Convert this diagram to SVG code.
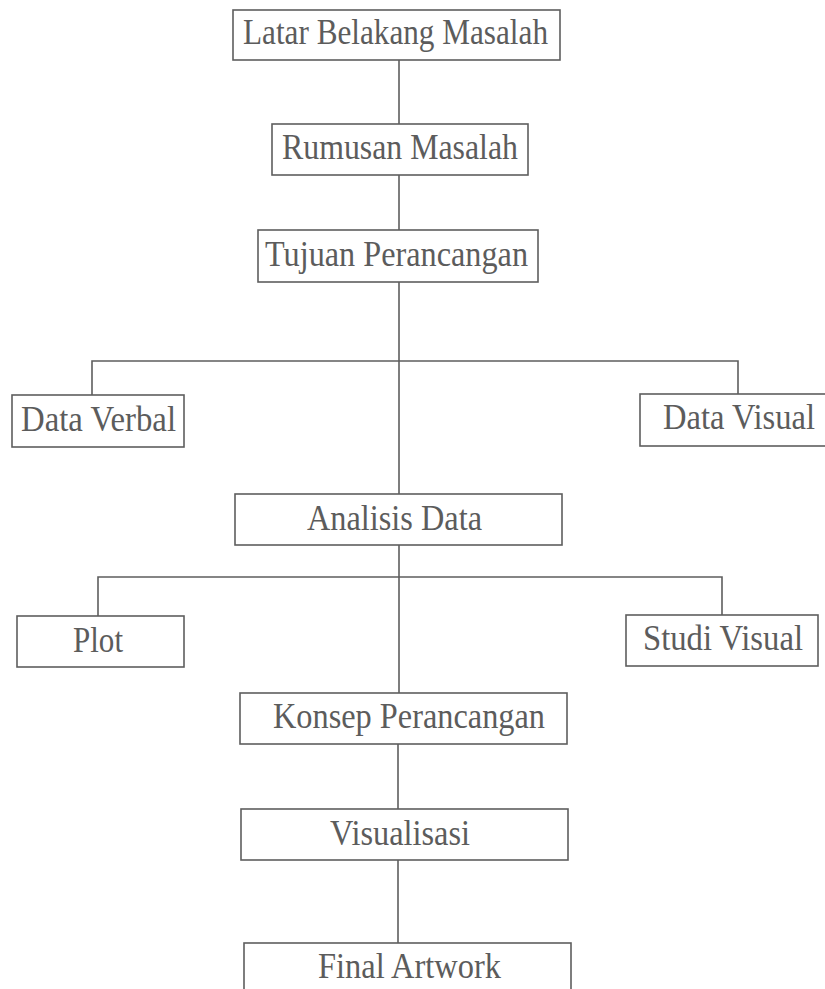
<svg xmlns="http://www.w3.org/2000/svg" width="825" height="989" viewBox="0 0 825 989">
<style>
.box{fill:#fff;stroke:#5e5e5e;stroke-width:1.6}
.lbl{font-family:"Liberation Serif","Times New Roman",serif;font-size:35px;fill:#5c5c5c}
.conn{stroke:#5e5e5e;stroke-width:1.6;fill:none}
</style>
<rect width="825" height="989" fill="#fff"/>
<g id="connectors">
<line class="conn" x1="399" y1="60" x2="399" y2="124"/>
<line class="conn" x1="399" y1="175" x2="399" y2="230"/>
<line class="conn" x1="399" y1="282" x2="399" y2="494"/>
<polyline class="conn" points="92,395 92,361 738,361 738,394"/>
<line class="conn" x1="399" y1="545" x2="399" y2="693"/>
<polyline class="conn" points="98,616 98,577 722,577 722,615"/>
<line class="conn" x1="398" y1="744" x2="398" y2="809"/>
<line class="conn" x1="398" y1="860" x2="398" y2="943"/>
</g>
<g id="latar"><rect class="box" x="233" y="10" width="327" height="50"/><text class="lbl" x="243" y="44" textLength="305" lengthAdjust="spacingAndGlyphs">Latar Belakang Masalah</text></g>
<g id="rumusan"><rect class="box" x="272" y="124" width="256" height="51"/><text class="lbl" x="282" y="159" textLength="236" lengthAdjust="spacingAndGlyphs">Rumusan Masalah</text></g>
<g id="tujuan"><rect class="box" x="258" y="230" width="280" height="52"/><text class="lbl" x="265" y="266" textLength="263" lengthAdjust="spacingAndGlyphs">Tujuan Perancangan</text></g>
<g id="dataverbal"><rect class="box" x="12" y="395" width="172" height="52"/><text class="lbl" x="21" y="431" textLength="155" lengthAdjust="spacingAndGlyphs">Data Verbal</text></g>
<g id="datavisual"><rect class="box" x="640" y="394" width="200" height="52"/><text class="lbl" x="663" y="429" textLength="152" lengthAdjust="spacingAndGlyphs">Data Visual</text></g>
<g id="analisis"><rect class="box" x="235" y="494" width="327" height="51"/><text class="lbl" x="307" y="530" textLength="175" lengthAdjust="spacingAndGlyphs">Analisis Data</text></g>
<g id="plot"><rect class="box" x="17" y="616" width="167" height="51"/><text class="lbl" x="73" y="652" textLength="50" lengthAdjust="spacingAndGlyphs">Plot</text></g>
<g id="studivisual"><rect class="box" x="626" y="615" width="192" height="51"/><text class="lbl" x="643" y="650" textLength="160" lengthAdjust="spacingAndGlyphs">Studi Visual</text></g>
<g id="konsep"><rect class="box" x="240" y="693" width="327" height="51"/><text class="lbl" x="273" y="728" textLength="272" lengthAdjust="spacingAndGlyphs">Konsep Perancangan</text></g>
<g id="visualisasi"><rect class="box" x="241" y="809" width="327" height="51"/><text class="lbl" x="330" y="845" textLength="140" lengthAdjust="spacingAndGlyphs">Visualisasi</text></g>
<g id="final"><rect class="box" x="244" y="943" width="327" height="60"/><text class="lbl" x="318" y="978" textLength="183" lengthAdjust="spacingAndGlyphs">Final Artwork</text></g>
</svg>
